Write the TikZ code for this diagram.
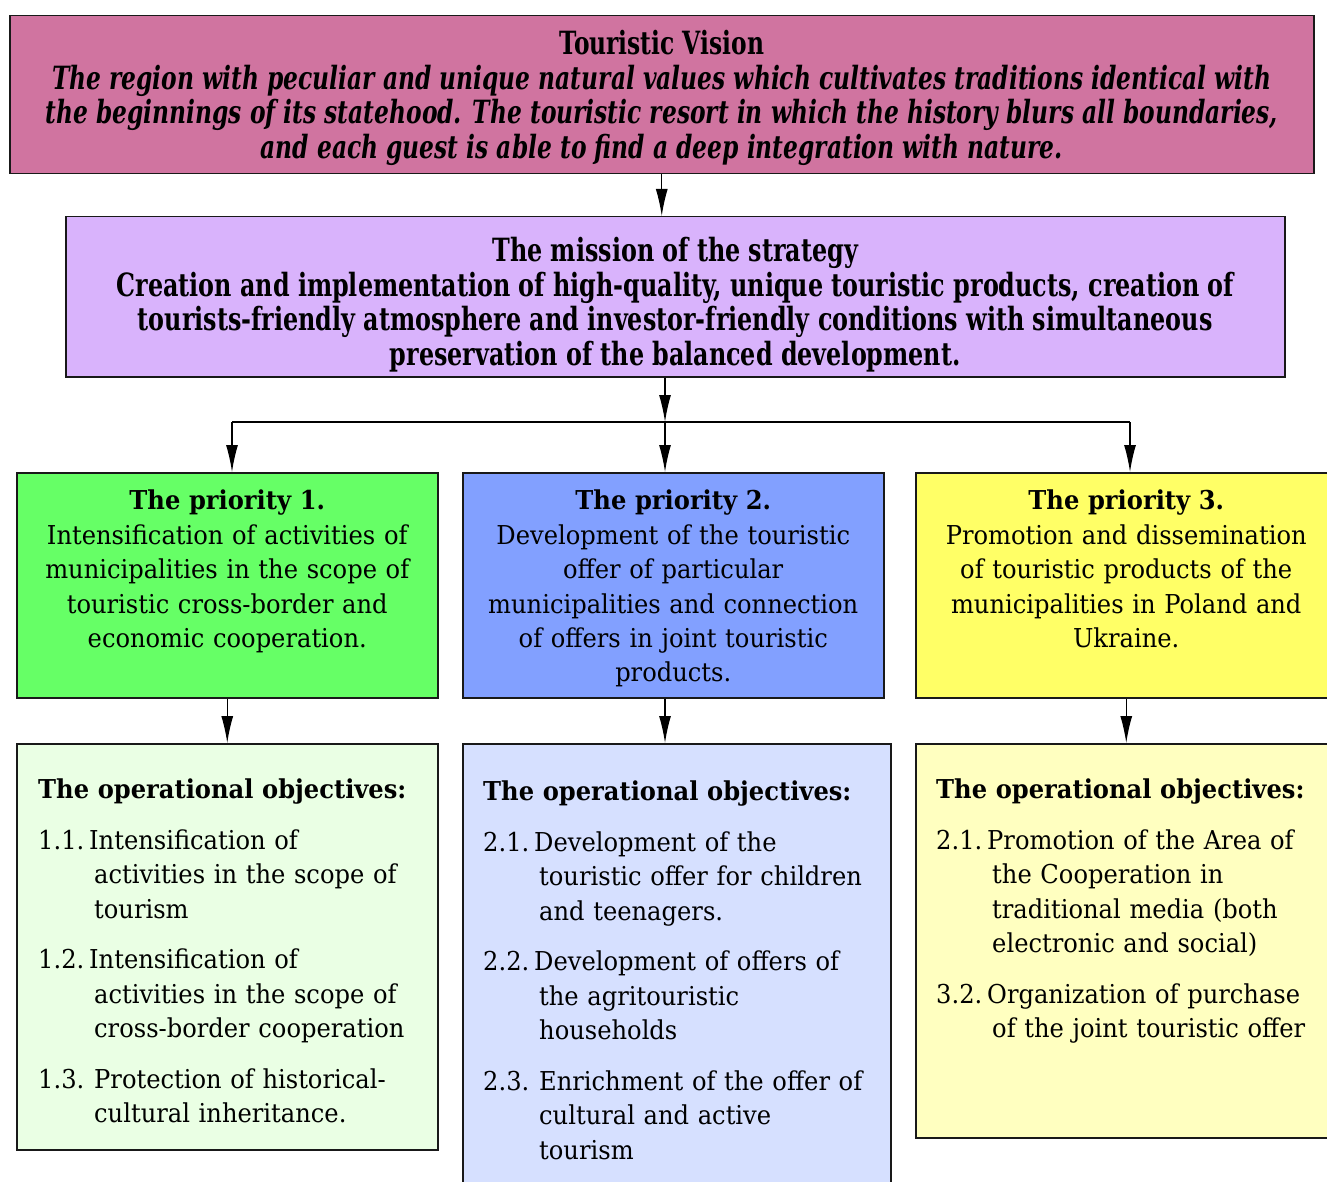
\documentclass[tikz,border=0pt]{standalone}
\usepackage{fontspec}
\setmainfont{DejaVu Serif}[FakeStretch=0.93]
\newfontfamily\visionfont{DejaVu Serif}[FakeStretch=0.73]
\newfontfamily\missionfont{DejaVu Serif}[FakeStretch=0.745]
\usetikzlibrary{arrows.meta}
\definecolor{visionpink}{RGB}{208,116,160}
\definecolor{missionlilac}{RGB}{217,179,252}
\definecolor{prioritygreen}{RGB}{102,255,102}
\definecolor{priorityblue}{RGB}{130,160,255}
\definecolor{priorityyellow}{RGB}{255,255,102}
\definecolor{objectivegreen}{RGB}{234,255,228}
\definecolor{objectiveblue}{RGB}{214,224,255}
\definecolor{objectiveyellow}{RGB}{255,255,192}
\newcommand{\objitem}[2]{\par\vspace{16pt}\noindent\makebox[51pt][l]{#1}#2}
\newcommand{\objnl}{\\\hspace*{56pt}}
\begin{document}
\begin{tikzpicture}[
        x=1pt, y=-1pt,
        box/.style={draw=black!90, line width=1.5pt, inner sep=0pt, anchor=north west},
        priority box/.style={box, minimum width=421pt, minimum height=225pt},
        vision text/.style={inner sep=0pt, anchor=north, align=center, font=\visionfont\bfseries\fontsize{32}{34.5}\selectfont},
        mission text/.style={inner sep=0pt, anchor=north, align=center, font=\missionfont\bfseries\fontsize{32}{34.5}\selectfont},
        priority text/.style={inner sep=0pt, anchor=north, align=center, text width=415pt, font=\fontsize{26}{34.4}\selectfont},
        objective text/.style={inner sep=0pt, anchor=north west, align=left, text width=420pt, font=\fontsize{26}{34.5}\selectfont},
        link/.style={draw=black, line width=1.3pt},
        arrow/.style={link, -{Latex[length=27pt, width=12pt]}}
    ]
	\clip (0,0) rectangle (1327,1182);
	\node[box, fill=visionpink, minimum width=1304pt, minimum height=158pt] (vision) at (9,15) {};
	\node[box, fill=missionlilac, minimum width=1219pt, minimum height=160pt] (mission) at (65,216) {};
	\node[priority box, fill=prioritygreen] (prio_1) at (16,472) {};
	\node[priority box, fill=priorityblue] (prio_2) at (462,472) {};
	\node[priority box, fill=priorityyellow] (prio_3) at (915,472) {};
	\node[box, fill=objectivegreen, minimum width=421pt, minimum height=406pt] (obj_1) at (16,743) {};
	\node[box, fill=objectiveblue, minimum width=428pt, minimum height=460pt] (obj_2) at (462,743) {};
	\node[box, fill=objectiveyellow, minimum width=421pt, minimum height=394pt] (obj_3) at (915,743) {};
	\coordinate (split) at (665,422);
	\coordinate (split_1) at (232,422);
	\coordinate (split_3) at (1130,422);
	\draw[arrow] (vision.south) -- (vision.south |- mission.north);
	\draw[arrow] (split |- mission.south) -- (split);
	\draw[link] (split_1) -- (split_3);
	\draw[arrow] (split_1) -- (split_1 |- prio_1.north);
	\draw[arrow] (split) -- (split |- prio_2.north);
	\draw[arrow] (split_3) -- (split_3 |- prio_3.north);
	\draw[arrow] (prio_1.south) -- (prio_1.south |- obj_1.north);
	\draw[arrow] (split |- prio_2.south) -- (split |- obj_2.north);
	\draw[arrow] (prio_3.south) -- (prio_3.south |- obj_3.north);
	\node[vision text] (vision_text) at ([yshift=-15pt]vision.north) {Touristic Vision\\\itshape The region with peculiar and unique natural values which cultivates traditions identical with\\\itshape the beginnings of its statehood. The touristic resort in which the history blurs all boundaries,\\\itshape and each guest is able to find a deep integration with nature.};
	\node[mission text] (mission_text) at ([yshift=-21pt]mission.north) {The mission of the strategy\\Creation and implementation of high-quality, unique touristic products, creation of\\tourists-friendly atmosphere and investor-friendly conditions with simultaneous\\preservation of the balanced development.};
	\node[priority text] (prio_1_text) at ([yshift=-18pt]prio_1.north) {\textbf{The priority 1.}\\Intensification of activities of\\municipalities in the scope of\\touristic cross-border and\\economic cooperation.};
	\node[priority text] (prio_2_text) at ([yshift=-18pt]prio_2.north) {\textbf{The priority 2.}\\Development of the touristic\\offer of particular\\municipalities and connection\\of offers in joint touristic\\products.};
	\node[priority text] (prio_3_text) at ([yshift=-18pt]prio_3.north) {\textbf{The priority 3.}\\Promotion and dissemination\\of touristic products of the\\municipalities in Poland and\\Ukraine.};
	\node[objective text] (obj_1_text) at ([xshift=22pt, yshift=-36pt]obj_1.north west) {\textbf{The operational objectives:}
		\objitem{1.1.}{Intensification of\objnl activities in the scope of\objnl tourism}
		\objitem{1.2.}{Intensification of\objnl activities in the scope of\objnl cross-border cooperation}
		\objitem{1.3.}{\hspace{5pt}Protection of historical-\objnl cultural inheritance.}};
	\node[objective text] (obj_2_text) at ([xshift=21pt, yshift=-38pt]obj_2.north west) {\textbf{The operational objectives:}
		\objitem{2.1.}{Development of the\objnl touristic offer for children\objnl and teenagers.}
		\objitem{2.2.}{Development of offers of\objnl the agritouristic\objnl households}
		\objitem{2.3.}{\hspace{5pt}Enrichment of the offer of\objnl cultural and active\objnl tourism}};
	\node[objective text] (obj_3_text) at ([xshift=21pt, yshift=-36pt]obj_3.north west) {\textbf{The operational objectives:}
		\objitem{2.1.}{Promotion of the Area of\objnl the Cooperation in\objnl traditional media (both\objnl electronic and social)}
		\objitem{3.2.}{Organization of purchase\objnl of the joint touristic offer}};
    \end{tikzpicture}
\end{document}
